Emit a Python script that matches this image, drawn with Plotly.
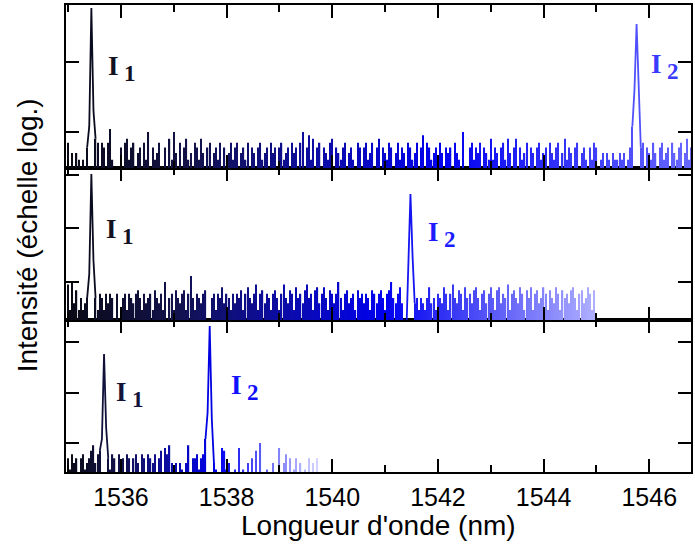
import numpy as np
import plotly.graph_objects as go

# ---------------- data ----------------
wl_start = 1535.0      # nm, first sample of every spectrum
wl_step = 0.04         # nm, sampling step

# top spectrum (I1 at 1535.44 nm, I2 at 1545.76 nm)
top_intensity = [
    7, 3, 5, 2, 5, 4, 1, 4, 3, 6, 12, 590, 20, 8, 7, 3, 7, 6, 1, 7,
    11, 4, 1, 1, 2, 6, 3, 7, 8, 4, 6, 7, 3, 5, 6, 1, 7, 4, 10, 3,
    6, 4, 5, 7, 2, 3, 6, 1, 8, 4, 10, 5, 3, 7, 1, 6, 8, 4, 5, 3,
    7, 6, 4, 8, 5, 1, 6, 7, 3, 5, 6, 4, 7, 1, 6, 3, 5, 7, 4, 6,
    7, 3, 5, 6, 4, 7, 1, 6, 5, 3, 6, 7, 4, 5, 6, 1, 7, 5, 6, 3,
    6, 7, 4, 5, 6, 3, 7, 5, 6, 1, 7, 10, 3, 6, 9, 4, 8, 3, 6, 7,
    3, 6, 5, 4, 7, 8, 1, 6, 5, 4, 6, 7, 3, 5, 6, 4, 1, 7, 6, 3,
    6, 7, 4, 5, 7, 3, 6, 8, 1, 6, 5, 4, 7, 6, 3, 5, 7, 4, 6, 5,
    3, 7, 6, 4, 5, 7, 1, 6, 9, 3, 7, 6, 4, 5, 6, 3, 7, 5, 1, 6,
    5, 6, 3, 7, 5, 4, 1, 10, 1, 3, 6, 7, 4, 6, 5, 7, 3, 6, 5, 4,
    8, 4, 6, 5, 3, 6, 7, 4, 8, 5, 1, 6, 8, 3, 6, 4, 5, 7, 3, 6,
    5, 3, 6, 7, 4, 5, 6, 1, 7, 5, 4, 6, 7, 3, 5, 8, 4, 6, 5, 3,
    6, 7, 3, 5, 6, 4, 1, 6, 4, 7, 6, 3, 4, 5, 3, 5, 4, 3, 5, 4,
    4, 5, 4, 5, 3, 4, 6, 12, 40, 348, 30, 6, 7, 3, 6, 5, 4, 7, 5, 3,
    6, 7, 4, 5, 6, 3, 7, 5, 4, 6, 7, 3, 5, 8, 4, 6,
]

# middle spectrum (I1 at 1535.44 nm, I2 at 1541.48 nm)
mid_intensity = [
    9, 3, 10, 4, 7, 3, 5, 3, 4, 5, 14, 1040, 25, 5, 3, 6, 5, 3, 6, 4,
    6, 5, 1, 6, 1, 1, 5, 6, 3, 6, 5, 4, 6, 7, 5, 3, 6, 4, 5, 6,
    3, 7, 5, 4, 6, 3, 10, 1, 5, 6, 3, 7, 5, 4, 6, 7, 3, 6, 13, 5,
    3, 6, 5, 4, 6, 7, 1, 1, 5, 6, 3, 6, 5, 8, 4, 6, 5, 3, 6, 4,
    6, 5, 7, 3, 6, 8, 5, 4, 6, 9, 3, 6, 7, 4, 6, 5, 3, 6, 7, 5,
    3, 6, 9, 5, 4, 7, 6, 3, 8, 5, 6, 4, 7, 9, 5, 6, 3, 7, 8, 4,
    6, 8, 5, 3, 7, 6, 4, 6, 10, 5, 3, 6, 7, 4, 5, 6, 3, 7, 5, 6,
    4, 6, 5, 3, 7, 6, 4, 6, 7, 5, 3, 6, 7, 10, 5, 4, 6, 8, 4, 2,
    1, 14, 442, 30, 4, 5, 3, 5, 4, 3, 5, 8, 4, 5, 3, 6, 5, 4, 8, 6,
    3, 6, 9, 5, 4, 7, 6, 3, 8, 5, 6, 4, 7, 8, 5, 3, 6, 7, 4, 6,
    8, 5, 3, 7, 8, 4, 6, 5, 9, 3, 6, 7, 5, 4, 8, 6, 3, 7, 5, 8,
    3, 6, 7, 4, 5, 8, 6, 3, 7, 5, 4, 8, 6, 3, 7, 5, 6, 4, 7, 8,
    5, 3, 6, 7, 4, 5, 8, 6, 3, 7, 1,
]

# bottom spectrum (I1 at 1535.68 nm, I2 at 1537.68 nm)
bot_intensity = [
    5, 3, 6, 4, 5, 2, 5, 6, 3, 4, 5, 7, 9, 4, 6, 7, 12, 578, 20, 5,
    3, 6, 5, 1, 6, 4, 5, 2, 6, 5, 1, 5, 6, 4, 2, 6, 5, 1, 6, 5,
    4, 6, 2, 5, 7, 1, 8, 6, 9, 4, 2, 4, 1, 4, 3, 1, 4, 9, 2, 5,
    5, 6, 3, 5, 6, 12, 40, 2075, 30, 4, 3, 2, 1, 8, 7, 3, 4, 2, 1, 3,
    2, 8, 1, 3, 2, 4, 1, 5, 2, 7, 2, 10, 1, 2, 3, 1, 2, 4, 1, 2,
    8, 2, 4, 6, 2, 5, 1, 3, 5, 2, 4, 1, 3, 2, 5, 1, 4, 2, 5, 1,
]

x_tick_values = [1536, 1538, 1540, 1542, 1544, 1546]
top_decades = [10, 100]
mid_decades = [10, 100, 1000]
bot_decades = [10, 100, 1000]

# ---------------- styling ----------------
FONT = "Arial, Liberation Sans, sans-serif"
SERIF = "Liberation Serif, Times New Roman, serif"

base_stops = [(0.0, (10, 10, 22)), (0.2, (18, 18, 74)), (0.4, (12, 12, 165)), (0.6, (0, 0, 240))]
end_colors = {"top": (104, 104, 255), "mid": (176, 176, 255), "bot": (216, 216, 255)}


def colour_at(t, end):
    stops = base_stops + [(1.0, end)]
    t = min(max(t, 0.0), 1.0)
    for (t0, c0), (t1, c1) in zip(stops[:-1], stops[1:]):
        if t <= t1:
            f = (t - t0) / (t1 - t0)
            return "rgb(%d,%d,%d)" % tuple(round(a + (b - a) * f) for a, b in zip(c0, c1))
    return "rgb(%d,%d,%d)" % end


fig = go.Figure()


def add_spectrum(values, xref, yref, end):
    n = len(values)
    wl = np.round(wl_start + wl_step * np.arange(n), 3)
    colours = [colour_at(i / (n - 1), end) for i in range(n)]
    peaks = [p for p in range(n) if values[p] > 50]
    near_peak = set()
    for p in peaks:
        near_peak.update(range(max(p - 1, 0), min(p + 2, n)))
    stick_y = [None if i in near_peak else v for i, v in enumerate(values)]
    # fine noise sticks
    fig.add_trace(go.Bar(
        x=wl, y=stick_y, width=wl_step * 0.6, marker=dict(color=colours, line=dict(width=0)),
        xaxis=xref, yaxis=yref, showlegend=False, hoverinfo="skip"))
    # the emission lines as a continuous trace
    for p in peaks:
        s, e = max(p - 2, 0), min(p + 2, n - 1)
        fig.add_trace(go.Scatter(
            x=wl[s:e + 1], y=values[s:e + 1], mode="lines",
            line=dict(color=colours[p], width=1.8),
            xaxis=xref, yaxis=yref, showlegend=False, hoverinfo="skip"))


add_spectrum(top_intensity, "x3", "y3", end_colors["top"])
add_spectrum(mid_intensity, "x2", "y2", end_colors["mid"])
add_spectrum(bot_intensity, "x", "y", end_colors["bot"])

xr = [1534.96, 1546.79]
common_x = dict(range=xr, tickvals=x_tick_values, ticks="inside", ticklen=13, tickwidth=1.5,
                tickcolor="black", minor=dict(ticks="inside", dtick=1, tick0=1535, ticklen=7,
                                              tickwidth=1.5, tickcolor="black"),
                showline=True, linecolor="black", linewidth=1.7, mirror="ticks",
                showgrid=False, zeroline=False)
common_y = dict(type="log", ticks="inside", ticklen=13, tickwidth=1.5, tickcolor="black",
                showticklabels=False, showline=True, linecolor="black", linewidth=1.7,
                mirror="ticks", showgrid=False, zeroline=False)

d1, d2 = 0.3255, 0.651
fig.update_layout(
    width=695, height=546,
    margin=dict(l=66, r=2, t=5, b=74),
    paper_bgcolor="white", plot_bgcolor="white",
    font=dict(family=FONT, color="black"),
    barmode="overlay",
    xaxis=dict(common_x, anchor="y", showticklabels=True,
               tickfont=dict(family=FONT, size=25, color="black"), ticklabelstandoff=2),
    xaxis2=dict(common_x, anchor="y2", matches="x", showticklabels=False),
    xaxis3=dict(common_x, anchor="y3", matches="x", showticklabels=False),
    yaxis=dict(common_y, domain=[0, d1], range=[0.426, 3.436], tickvals=bot_decades),
    yaxis2=dict(common_y, domain=[d1, d2], range=[0.29, 3.131], tickvals=mid_decades),
    yaxis3=dict(common_y, domain=[d2, 1], range=[0.486, 2.814], tickvals=top_decades),
)

# axis titles
fig.add_annotation(text="Longueur d'onde (nm)", xref="paper", yref="paper", x=0.5, y=-0.1135,
                   xanchor="center", yanchor="middle", showarrow=False,
                   font=dict(family=FONT, size=28, color="black"))
fig.add_annotation(text="Intensité (échelle log.)", xref="paper", yref="paper", x=-0.0622, y=0.507,
                   xanchor="center", yanchor="middle", textangle=-90, showarrow=False,
                   font=dict(family=FONT, size=28, color="black"))


def peak_label(num, x, yfrac, xref, yref, colour):
    fig.add_annotation(
        text='<b>I</b>&#8201;<sub><span style="font-size:23px"><b>%d</b></span></sub>' % num,
        xref=xref, yref=yref + " domain", x=x, y=yfrac, xanchor="left", yanchor="middle",
        showarrow=False, font=dict(family=SERIF, size=27, color=colour))


peak_label(1, 1535.72, 0.613, "x3", "y3", "#111122")
peak_label(2, 1546.0, 0.62, "x3", "y3", "#3a3aff")
peak_label(1, 1535.68, 0.585, "x2", "y2", "#111122")
peak_label(2, 1541.77, 0.56, "x2", "y2", "#1c1cff")
peak_label(1, 1535.87, 0.507, "x", "y", "#14143a")
peak_label(2, 1538.04, 0.553, "x", "y", "#1010ff")

fig.write_html("out.html", config={"displayModeBar": False},
               post_script="document.body.style.margin='0px';document.body.style.padding='0px';")
